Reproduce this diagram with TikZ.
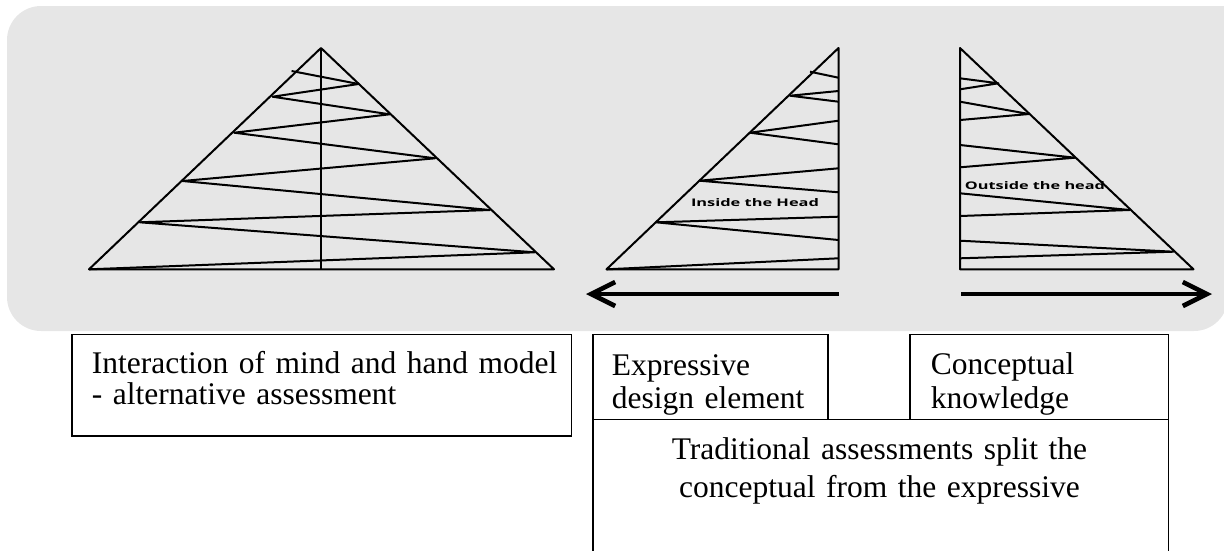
\documentclass[tikz,border=0pt]{standalone}
\usepackage{fontspec}
\setmainfont{Liberation Serif}
\newfontfamily\headfont{Open Sans}
\usepackage{graphicx}
\usetikzlibrary{arrows.meta,calc}
\definecolor{fondo}{HTML}{E6E6E6}
\newcommand{\widehead}[2]{\resizebox{#1}{\height}{\headfont\bfseries #2}}

\begin{document}
\begin{tikzpicture}[x=1pt,y=-1pt,
    linea/.style={line width=2pt, line join=round},
    freccia/.style={line width=4.6pt, -{Straight Barb[length=24pt,width=24pt]}},
    riquadro/.style={draw, line width=1.8pt, inner sep=0pt, anchor=north west},
    testo/.style={inner sep=0pt, anchor=base west, align=left, text width=#1,
      font=\fontsize{31.5}{31}\selectfont},
    etichetta/.style={inner sep=0pt, anchor=base, font=\fontsize{10.5}{12}\selectfont}]
    \useasboundingbox (0,0) rectangle (1224,550);

    % Sfondo
    \fill[fondo, rounded corners=34pt] (7,6) rectangle (1228,331);
    \fill[fondo] (1150,6) rectangle (1224,60);

    % Piramide intera
    \draw[linea] (321,48) -- (89,269.3) -- (554,269.3) -- cycle;
    \draw[linea] (321,48) -- (321,269.3);
    \draw[linea] (291.6,71) -- (358.6,84) -- (272.5,96.7) -- (389.6,114.3) -- (234.2,132.7)
        -- (435.1,158.3) -- (182.5,181) -- (489.9,210) -- (139.7,222.3) -- (534.6,252.3) -- (89,269.3);

    % Meta sinistra
    \draw[linea] (838.5,48) -- (606.5,269.3) -- (838.5,269.3) -- cycle;
    \draw[linea] (810,71.7) -- (838.5,77.7);
    \draw[linea] (838.5,91) -- (790,95.7) -- (838.5,101.7);
    \draw[linea] (838.5,120.7) -- (750,132.7) -- (838.5,144.3);
    \draw[linea] (838.5,168.3) -- (699.5,180.7) -- (838.5,192.3);
    \draw[linea] (838.5,216.7) -- (656,222.3) -- (838.5,240);
    \draw[linea] (838.5,258.3) -- (606.5,269.3);
    \node[etichetta] (dentro) at (755,206.7) {\widehead{128pt}{Inside the Head}};

    % Meta destra
    \draw[linea] (960,48) -- (960,269.3) -- (1193.5,269.3) -- cycle;
    \draw[linea] (960,78.3) -- (998.5,83.3) -- (960,89.3);
    \draw[linea] (960,101.7) -- (1029,114) -- (960,120);
    \draw[linea] (960,145) -- (1075,157.7) -- (960,167.3);
    \draw[linea] (960,193.3) -- (1129.5,210) -- (960,216);
    \draw[linea] (960,240.7) -- (1173.5,251.7) -- (960,258.3);
    \node[etichetta] (fuori) at (1035,189.3) {\widehead{140pt}{Outside the head}};

    % Frecce
    \coordinate (sxinizio) at (838.5,294);
    \coordinate (sxfine) at (586,294);
    \coordinate (dxinizio) at (961,294);
    \coordinate (dxfine) at (1212,294);
    \draw[freccia] (sxinizio) -- (sxfine);
    \draw[freccia] (dxinizio) -- (dxfine);

    % Riquadri
    \node[riquadro, minimum width=499.5pt, minimum height=101.5pt] (mano) at (71,333.5) {};
    \node[riquadro, minimum width=235.5pt, minimum height=85pt] (espressivo) at (591.7,333.5) {};
    \node[riquadro, minimum width=258.5pt, minimum height=85pt] (concettuale) at (909,333.5) {};
    \node[riquadro, minimum width=575.8pt, minimum height=150pt] (tradizionale) at (591.7,418.5) {};

    % Testi
    \node[testo=480pt] (manotesto) at ($(mano.north west)+(20.7,40)$)
        {Interaction of mind and hand model\\- alternative assessment};
    \node[testo=215pt, font=\fontsize{31.5}{33}\selectfont] (espressivotesto)
        at ($(espressivo.north west)+(20,41.5)$) {Expressive\\design element};
    \node[testo=230pt, font=\fontsize{31.5}{34}\selectfont] (concettualetesto)
        at ($(concettuale.north west)+(21.7,40.8)$) {Conceptual\\knowledge};
    \node[testo=540pt, align=center, anchor=base, font=\fontsize{31.5}{38}\selectfont] (tradizionaletesto)
        at (879.5,459.3) {Traditional assessments split the\\conceptual from the expressive};
\end{tikzpicture}
\end{document}
